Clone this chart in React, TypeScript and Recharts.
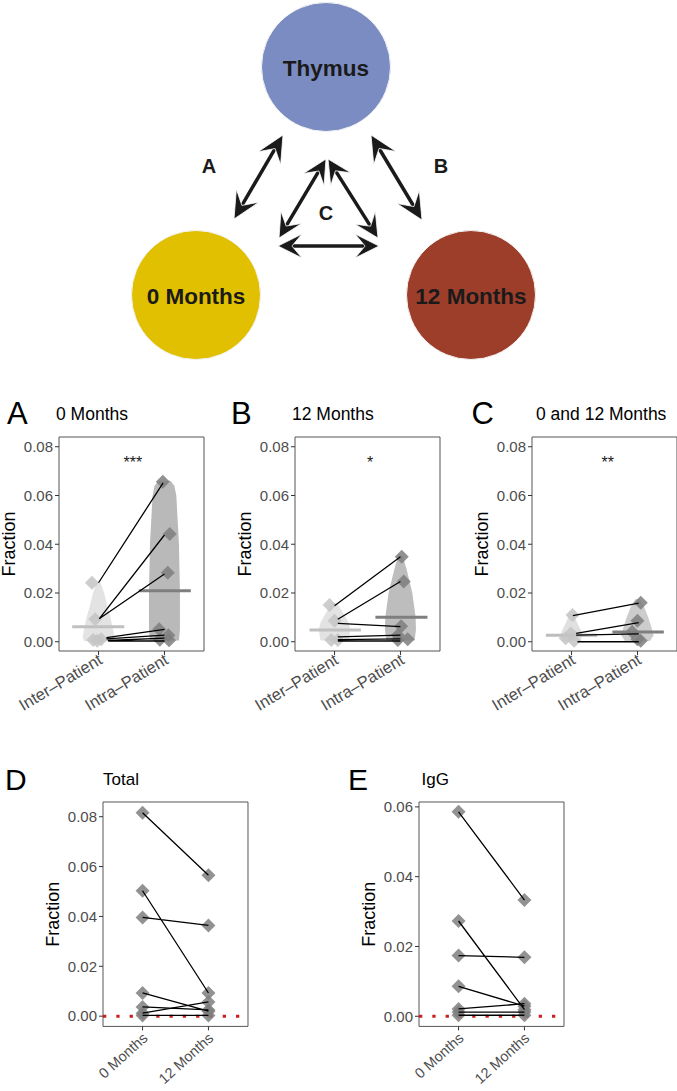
import React from 'react';
import { ScatterChart, Scatter, XAxis, YAxis, ReferenceArea, ReferenceLine } from 'recharts';

const FONT = '"Liberation Sans", Arial, Helvetica, sans-serif';

// ---- top diagram (layout units = page pixels) ----
const diagramNodes = [
  { x: 326, y: 67, label: 'Thymus', color: '#7b8cc2' },
  { x: 196, y: 295, label: '0 Months', color: '#e0c000' },
  { x: 471, y: 295, label: '12 Months', color: '#9d3e2b' },
];
const diagramLetters = [
  { x: 209, y: 165, label: 'A' },
  { x: 441, y: 165, label: 'B' },
  { x: 326, y: 212, label: 'C' },
];
const arrowA = [{ x: 234, y: 219 }, { x: 283, y: 135 }];
const arrowB = [{ x: 371, y: 135 }, { x: 422, y: 220 }];
const arrowCLeft = [{ x: 279, y: 238 }, { x: 326, y: 159 }];
const arrowCRight = [{ x: 328, y: 159 }, { x: 378, y: 238 }];
const arrowCBottom = [{ x: 278, y: 246 }, { x: 379, y: 246 }];

// ---- shared axis stuff ----
const groupLabels = ['Inter–Patient', 'Intra–Patient'];
const timeLabels = ['0 Months', '12 Months'];
const ticksABC = [0, 0.02, 0.04, 0.06, 0.08];
const ticksD = [0, 0.02, 0.04, 0.06, 0.08];
const ticksE = [0, 0.02, 0.04, 0.06];

// ---- A: 0 Months ----
const aInter = [{ x: 0.9, y: 0.0242 }, { x: 0.95, y: 0.0092 }, { x: 0.92, y: 0.0007 }, { x: 1.04, y: 0.001 }, { x: 0.98, y: 0.0004 }];
const aIntra = [{ x: 1.975, y: 0.0656 }, { x: 2.08, y: 0.0442 }, { x: 2.05, y: 0.0283 }, { x: 1.92, y: 0.0051 }, { x: 2.06, y: 0.0027 }, { x: 1.93, y: 0.0008 }, { x: 2.07, y: 0.0006 }];
const aPairs = [
  { x1: 1.0, y1: 0.0242, x2: 1.98, y2: 0.0652 },
  { x1: 1.01, y1: 0.0094, x2: 2.0, y2: 0.0438 },
  { x1: 1.01, y1: 0.0094, x2: 2.0, y2: 0.0278 },
  { x1: 1.12, y1: 0.0017, x2: 2.0, y2: 0.0051 },
  { x1: 1.12, y1: 0.0012, x2: 2.0, y2: 0.0027 },
  { x1: 1.14, y1: 0.0005, x2: 2.0, y2: 0.0015 },
  { x1: 1.15, y1: 0.0003, x2: 2.0, y2: 0.0003 },
];
const aInterViolin = [{ y: 0.0003, w: 0.22 }, { y: 0.002, w: 0.24 }, { y: 0.005, w: 0.22 }, { y: 0.01, w: 0.18 }, { y: 0.015, w: 0.13 }, { y: 0.02, w: 0.085 }, { y: 0.0242, w: 0.03 }];
const aIntraViolin = [{ y: 0.0005, w: 0.22 }, { y: 0.005, w: 0.235 }, { y: 0.02, w: 0.235 }, { y: 0.04, w: 0.22 }, { y: 0.05, w: 0.2 }, { y: 0.06, w: 0.18 }, { y: 0.064, w: 0.15 }, { y: 0.066, w: 0.09 }];
const aMedians = [{ x1: 0.6, x2: 1.39, y: 0.0062 }, { x1: 1.61, x2: 2.4, y: 0.0209 }];
const aStars = [{ x: 1.52, y: 0.0748, label: '***' }];

// ---- B: 12 Months ----
const bInter = [{ x: 0.924, y: 0.0151 }, { x: 1.0, y: 0.0086 }, { x: 0.95, y: 0.0007 }, { x: 1.05, y: 0.0007 }];
const bIntra = [{ x: 2.02, y: 0.0349 }, { x: 2.05, y: 0.0247 }, { x: 2.01, y: 0.0064 }, { x: 1.96, y: 0.0027 }, { x: 2.11, y: 0.001 }, { x: 1.96, y: 0.0007 }];
const bPairs = [
  { x1: 1.0, y1: 0.0148, x2: 2.0, y2: 0.0349 },
  { x1: 1.05, y1: 0.0092, x2: 2.0, y2: 0.0247 },
  { x1: 1.05, y1: 0.0075, x2: 2.0, y2: 0.0062 },
  { x1: 1.05, y1: 0.002, x2: 2.0, y2: 0.0027 },
  { x1: 1.05, y1: 0.0009, x2: 2.0, y2: 0.0012 },
  { x1: 1.05, y1: 0.0003, x2: 2.0, y2: 0.0003 },
];
const bInterViolin = [{ y: 0.0005, w: 0.215 }, { y: 0.005, w: 0.24 }, { y: 0.008, w: 0.21 }, { y: 0.012, w: 0.126 }, { y: 0.0158, w: 0.04 }];
const bIntraViolin = [{ y: 0.0005, w: 0.215 }, { y: 0.005, w: 0.235 }, { y: 0.01, w: 0.23 }, { y: 0.02, w: 0.18 }, { y: 0.03, w: 0.09 }, { y: 0.0355, w: 0.03 }];
const bMedians = [{ x1: 0.62, x2: 1.4, y: 0.0048 }, { x1: 1.62, x2: 2.41, y: 0.01 }];
const bStars = [{ x: 1.54, y: 0.0748, label: '*' }];

// ---- C: 0 and 12 Months ----
const cInter = [{ x: 1.015, y: 0.011 }, { x: 0.99, y: 0.0034 }, { x: 0.91, y: 0.0014 }, { x: 1.04, y: 0.0004 }];
const cIntra = [{ x: 2.05, y: 0.016 }, { x: 2.0, y: 0.0086 }, { x: 1.92, y: 0.0041 }, { x: 2.05, y: 0.0004 }, { x: 2.0, y: 0.001 }];
const cPairs = [
  { x1: 1.02, y1: 0.0107, x2: 2.02, y2: 0.0158 },
  { x1: 1.07, y1: 0.0034, x2: 2.02, y2: 0.0078 },
  { x1: 1.07, y1: 0.0027, x2: 2.02, y2: 0.0032 },
  { x1: 1.09, y1: 0.0, x2: 2.02, y2: 0.0 },
];
const cInterViolin = [{ y: 0.0003, w: 0.13 }, { y: 0.0027, w: 0.17 }, { y: 0.0048, w: 0.14 }, { y: 0.0075, w: 0.09 }, { y: 0.0115, w: 0.03 }];
const cIntraViolin = [{ y: 0.0003, w: 0.19 }, { y: 0.0027, w: 0.245 }, { y: 0.0062, w: 0.21 }, { y: 0.0103, w: 0.16 }, { y: 0.0144, w: 0.1 }, { y: 0.0175, w: 0.03 }];
const cMedians = [{ x1: 0.61, x2: 1.39, y: 0.0027 }, { x1: 1.62, x2: 2.4, y: 0.004 }];
const cStars = [{ x: 1.55, y: 0.0748, label: '**' }];

// ---- D: Total, E: IgG (paired by index) ----
const dZeroMonths = [0.0816, 0.0503, 0.0396, 0.0093, 0.0037, 0.0012, 0.0003];
const dTwelveMonths = [0.0565, 0.0093, 0.0364, 0.002, 0.0025, 0.0057, 0.0003];
const eZeroMonths = [0.0586, 0.0273, 0.0174, 0.0086, 0.0021, 0.0012, 0.0003];
const eTwelveMonths = [0.0333, 0.0019, 0.0169, 0.0029, 0.0036, 0.0012, 0.0003];

type Pt = { x: number; y: number };
type Pair = { x1: number; y1: number; x2: number; y2: number };

const Y_AXIS_W = 60;
const X_AXIS_H = 62;
const PLOT_W = 145;

const hidden = () => <g />;

const diamond = (fill: string) => (p: any) => (
  <polygon
    points={`${p.cx},${p.cy - 7} ${p.cx + 7},${p.cy} ${p.cx},${p.cy + 7} ${p.cx - 7},${p.cy}`}
    fill={fill}
    fillOpacity={0.85}
  />
);

const pairLines = (p: any) => {
  const pts = p.points as Pt[];
  let d = '';
  for (let i = 0; i + 1 < pts.length; i += 2) d += `M${pts[i].x},${pts[i].y}L${pts[i + 1].x},${pts[i + 1].y}`;
  return <path d={d} stroke="#000" strokeWidth={1.3} fill="none" />;
};

const filledShape = (fill: string) => (p: any) => {
  const pts = p.points as Pt[];
  const d = pts.map((q, i) => `${i ? 'L' : 'M'}${q.x},${q.y}`).join('') + 'Z';
  return <path d={d} fill={fill} stroke="none" />;
};

const barLine = (color: string) => (p: any) => {
  const pts = p.points as Pt[];
  return <path d={`M${pts[0].x},${pts[0].y}L${pts[1].x},${pts[1].y}`} stroke={color} strokeWidth={3} fill="none" />;
};

const violinOutline = (cx: number, profile: { y: number; w: number }[]) => [
  ...profile.map((r) => ({ x: cx + r.w, y: r.y })),
  ...[...profile].reverse().map((r) => ({ x: cx - r.w, y: r.y })),
];

const pairPoints = (pairs: Pair[]) => pairs.flatMap((q) => [{ x: q.x1, y: q.y1 }, { x: q.x2, y: q.y2 }]);

const RotTick = (props: any) => {
  const { x, y, payload, labels, angle, size, dx, dy } = props;
  const tx = x + dx;
  const ty = y + dy;
  return (
    <text x={tx} y={ty} transform={`rotate(${-angle} ${tx} ${ty})`} textAnchor="end" fontSize={size} fill="#4d4d4d" fontFamily={FONT}>
      {labels[Math.round(payload.value) - 1]}
    </text>
  );
};

const fractionLabel = (p: any) => {
  const vb = p.viewBox;
  const lx = vb.x + 16;
  const ly = vb.y + vb.height / 2;
  return (
    <text x={lx} y={ly} transform={`rotate(-90 ${lx} ${ly})`} textAnchor="middle" fontSize={18} fill="#000" fontFamily={FONT}>
      Fraction
    </text>
  );
};

interface PanelProps {
  left: number;
  top: number;
  height: number;
  yDomain: [number, number];
  yTicks: number[];
  xLabels: string[];
  labelAngle: number;
  labelSize: number;
  labelDx: number;
  labelDy: number;
  violins?: { cx: number; profile: { y: number; w: number }[]; fill: string }[];
  medians?: { x1: number; x2: number; y: number; color: string }[];
  points: { data: Pt[]; fill: string }[];
  pairs: Pair[];
  stars?: { x: number; y: number; label: string }[];
  zeroLine?: boolean;
}

const Panel = ({ left, top, height, yDomain, yTicks, xLabels, labelAngle, labelSize, labelDx, labelDy, violins = [], medians = [], points, pairs, stars = [], zeroLine }: PanelProps) => (
  <div style={{ position: 'absolute', left: left - Y_AXIS_W, top: top - 2 }}>
    <ScatterChart width={Y_AXIS_W + PLOT_W + 2} height={2 + height + X_AXIS_H} margin={{ top: 2, right: 2, bottom: 0, left: 0 }}>
      <XAxis
        type="number"
        dataKey="x"
        domain={[0.4, 2.6]}
        ticks={[1, 2]}
        interval={0}
        allowDataOverflow
        axisLine={false}
        tickLine={{ stroke: '#333' }}
        tickSize={4}
        height={X_AXIS_H}
        tick={<RotTick labels={xLabels} angle={labelAngle} size={labelSize} dx={labelDx} dy={labelDy} />}
      />
      <YAxis
        type="number"
        dataKey="y"
        domain={yDomain}
        ticks={yTicks}
        interval={0}
        allowDataOverflow
        axisLine={false}
        tickLine={{ stroke: '#333' }}
        tickSize={4}
        width={Y_AXIS_W}
        tick={{ fill: '#4d4d4d', fontSize: 15, fontFamily: FONT }}
        tickFormatter={(v: number) => v.toFixed(2)}
        label={{ content: fractionLabel }}
      />
      {violins.map((v, i) => (
        <Scatter key={`v${i}`} data={violinOutline(v.cx, v.profile)} shape={hidden} line={filledShape(v.fill)} isAnimationActive={false} />
      ))}
      {medians.map((m, i) => (
        <Scatter key={`m${i}`} data={[{ x: m.x1, y: m.y }, { x: m.x2, y: m.y }]} shape={hidden} line={barLine(m.color)} isAnimationActive={false} />
      ))}
      {points.map((s, i) => (
        <Scatter key={`p${i}`} data={s.data} shape={diamond(s.fill)} isAnimationActive={false} />
      ))}
      <Scatter data={pairPoints(pairs)} shape={hidden} line={pairLines} isAnimationActive={false} />
      {stars.length > 0 && (
        <Scatter
          data={stars}
          isAnimationActive={false}
          shape={(p: any) => (
            <text x={p.cx} y={p.cy + 9} textAnchor="middle" fontSize={16} fill="#1a1a1a" fontFamily={FONT}>
              {p.payload.label}
            </text>
          )}
        />
      )}
      {zeroLine && <ReferenceLine y={0} stroke="#cc1f1f" strokeWidth={3} strokeDasharray="3.3 10" />}
      <ReferenceArea x1={0.4} x2={2.6} y1={yDomain[0]} y2={yDomain[1]} fill="none" stroke="#555" strokeWidth={1} />
    </ScatterChart>
  </div>
);

const arrowLine = (len: number, half: number, width: number) => (p: any) => {
  const [a, b] = p.points as Pt[];
  const dx = b.x - a.x;
  const dy = b.y - a.y;
  const L = Math.hypot(dx, dy);
  const ux = dx / L;
  const uy = dy / L;
  const nx = -uy;
  const ny = ux;
  const head = (tip: Pt, sx: number, sy: number) => {
    const bx = tip.x - sx * len;
    const by = tip.y - sy * len;
    const kx = tip.x - sx * len * 0.58;
    const ky = tip.y - sy * len * 0.58;
    return `${tip.x},${tip.y} ${bx + nx * half},${by + ny * half} ${kx},${ky} ${bx - nx * half},${by - ny * half}`;
  };
  return (
    <g>
      <line
        x1={a.x + ux * len * 0.55}
        y1={a.y + uy * len * 0.55}
        x2={b.x - ux * len * 0.55}
        y2={b.y - uy * len * 0.55}
        stroke="#1a1a1a"
        strokeWidth={width}
      />
      <polygon points={head(b, ux, uy)} fill="#1a1a1a" stroke="#fff" strokeWidth={0.8} />
      <polygon points={head(a, -ux, -uy)} fill="#1a1a1a" stroke="#fff" strokeWidth={0.8} />
    </g>
  );
};

const Diagram = () => (
  <div style={{ position: 'absolute', left: 0, top: 0 }}>
    <ScatterChart width={677} height={362} margin={{ top: 0, right: 0, bottom: 0, left: 0 }}>
      <XAxis type="number" dataKey="x" domain={[0, 677]} hide allowDataOverflow />
      <YAxis type="number" dataKey="y" domain={[0, 362]} reversed hide allowDataOverflow />
      <Scatter
        data={diagramNodes}
        isAnimationActive={false}
        shape={(p: any) => (
          <g>
            <circle cx={p.cx} cy={p.cy} r={64.5} fill={p.payload.color} stroke="#f2f2f2" strokeWidth={1} />
            <text x={p.cx} y={p.cy + 9} textAnchor="middle" fontSize={22.5} fontWeight="bold" fill="#1a1a1a" fontFamily={FONT}>
              {p.payload.label}
            </text>
          </g>
        )}
      />
      <Scatter data={arrowA} shape={hidden} line={arrowLine(27, 13, 3.5)} isAnimationActive={false} />
      <Scatter data={arrowB} shape={hidden} line={arrowLine(27, 13, 3.5)} isAnimationActive={false} />
      <Scatter data={arrowCLeft} shape={hidden} line={arrowLine(24, 12, 3.5)} isAnimationActive={false} />
      <Scatter data={arrowCRight} shape={hidden} line={arrowLine(24, 12, 3.5)} isAnimationActive={false} />
      <Scatter data={arrowCBottom} shape={hidden} line={arrowLine(24, 12, 3.5)} isAnimationActive={false} />
      <Scatter
        data={diagramLetters}
        isAnimationActive={false}
        shape={(p: any) => (
          <text x={p.cx} y={p.cy + 7.5} textAnchor="middle" fontSize={20} fontWeight="bold" fill="#1a1a1a" fontFamily={FONT}>
            {p.payload.label}
          </text>
        )}
      />
    </ScatterChart>
  </div>
);

const headings = [
  { x: 7, y: 424, size: 31, text: 'A' },
  { x: 56, y: 420, size: 17.5, text: '0 Months' },
  { x: 231, y: 424, size: 31, text: 'B' },
  { x: 292, y: 420, size: 17.5, text: '12 Months' },
  { x: 471.5, y: 424, size: 31, text: 'C' },
  { x: 536, y: 420, size: 17.5, text: '0 and 12 Months' },
  { x: 5, y: 790, size: 30, text: 'D' },
  { x: 103, y: 785, size: 17, text: 'Total' },
  { x: 348, y: 790, size: 30, text: 'E' },
  { x: 421.5, y: 785, size: 17, text: 'IgG' },
];

const timePoints = (vals: number[], x: number) => vals.map((y) => ({ x, y }));
const timePairs = (a: number[], b: number[]) => a.map((y1, i) => ({ x1: 1, y1, x2: 2, y2: b[i] }));

export default function App() {
  const abcDomain: [number, number] = [-0.0038, 0.084];
  const abcLabel = { labelAngle: 31, labelSize: 16.5, labelDx: 5, labelDy: 6 };
  const deLabel = { labelAngle: 42, labelSize: 14.5, labelDx: 6, labelDy: 7 };
  return (
    <div style={{ position: 'absolute', left: 0, top: 0, width: 677, height: 1091, background: '#fff', fontFamily: FONT, overflow: 'hidden' }}>
      <style>{'.recharts-surface { overflow: visible; }'}</style>
      <Diagram />
      <Panel
        left={59.3}
        top={437}
        height={214}
        yDomain={abcDomain}
        yTicks={ticksABC}
        xLabels={groupLabels}
        {...abcLabel}
        violins={[
          { cx: 1, profile: aInterViolin, fill: '#e3e3e3' },
          { cx: 2, profile: aIntraViolin, fill: '#b9b9b9' },
        ]}
        medians={[
          { ...aMedians[0], color: '#c0c0c0' },
          { ...aMedians[1], color: '#7f7f7f' },
        ]}
        points={[
          { data: aInter, fill: '#c4c4c4' },
          { data: aIntra, fill: '#7e7e7e' },
        ]}
        pairs={aPairs}
        stars={aStars}
      />
      <Panel
        left={294.7}
        top={437}
        height={214}
        yDomain={abcDomain}
        yTicks={ticksABC}
        xLabels={groupLabels}
        {...abcLabel}
        violins={[
          { cx: 1, profile: bInterViolin, fill: '#e3e3e3' },
          { cx: 2, profile: bIntraViolin, fill: '#bdbdbd' },
        ]}
        medians={[
          { ...bMedians[0], color: '#c0c0c0' },
          { ...bMedians[1], color: '#7f7f7f' },
        ]}
        points={[
          { data: bInter, fill: '#c4c4c4' },
          { data: bIntra, fill: '#7e7e7e' },
        ]}
        pairs={bPairs}
        stars={bStars}
      />
      <Panel
        left={531.7}
        top={437}
        height={214}
        yDomain={abcDomain}
        yTicks={ticksABC}
        xLabels={groupLabels}
        {...abcLabel}
        violins={[
          { cx: 1, profile: cInterViolin, fill: '#e0e0e0' },
          { cx: 2, profile: cIntraViolin, fill: '#cccccc' },
        ]}
        medians={[
          { ...cMedians[0], color: '#bdbdbd' },
          { ...cMedians[1], color: '#7f7f7f' },
        ]}
        points={[
          { data: cInter, fill: '#c4c4c4' },
          { data: cIntra, fill: '#7e7e7e' },
        ]}
        pairs={cPairs}
        stars={cStars}
      />
      <Panel
        left={103.3}
        top={802.3}
        height={224.4}
        yDomain={[-0.0041, 0.0859]}
        yTicks={ticksD}
        xLabels={timeLabels}
        {...deLabel}
        points={[{ data: [...timePoints(dZeroMonths, 1), ...timePoints(dTwelveMonths, 2)], fill: '#7f7f7f' }]}
        pairs={timePairs(dZeroMonths, dTwelveMonths)}
        zeroLine
      />
      <Panel
        left={419.3}
        top={802.3}
        height={224.4}
        yDomain={[-0.0029, 0.0614]}
        yTicks={ticksE}
        xLabels={timeLabels}
        {...deLabel}
        points={[{ data: [...timePoints(eZeroMonths, 1), ...timePoints(eTwelveMonths, 2)], fill: '#7f7f7f' }]}
        pairs={timePairs(eZeroMonths, eTwelveMonths)}
        zeroLine
      />
      <svg width={677} height={1091} style={{ position: 'absolute', left: 0, top: 0, pointerEvents: 'none' }}>
        {headings.map((h) => (
          <text key={h.text} x={h.x} y={h.y} fontSize={h.size} fill="#000" fontFamily={FONT}>
            {h.text}
          </text>
        ))}
      </svg>
    </div>
  );
}
